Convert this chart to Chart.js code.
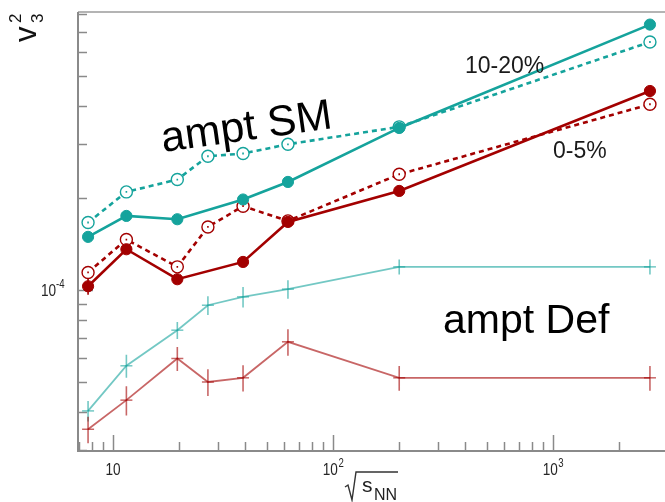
<!DOCTYPE html>
<html>
<head>
<meta charset="utf-8">
<script src="https://cdn.jsdelivr.net/npm/chart.js@4.4.1/dist/chart.umd.min.js"></script>
<style>
    html, body { margin: 0; padding: 0; background: #fff; overflow: hidden; }
    #wrap { position: relative; width: 665px; height: 502px; }
</style>
</head>
<body>
<div id="wrap"><canvas id="v3chart" width="665" height="502"></canvas></div>
<script>
// v3^2 versus collision energy, AMPT string-melting and default modes

const energies = [7.7, 11.5, 19.6, 27, 39, 62.4, 200, 2760];
const energiesSM = [7.7, 11.5, 19.6, 39, 62.4, 200, 2760];

// ampt SM, full markers (solid line)
const smMid = [1.494e-4, 1.749e-4, 1.706e-4, 1.979e-4, 2.259e-4, 3.392e-4, 7.386e-4];       // 10-20%
const smCentral = [1.030e-4, 1.361e-4, 1.086e-4, 1.237e-4, 1.672e-4, 2.111e-4, 4.480e-4];   // 0-5%
const smMidErr = [0.3e-5, 0.3e-5, 0.3e-5, 0.3e-5, 0.3e-5, 0.4e-5, 0.8e-5];
const smCentralErr = [0.64e-5, 0.3e-5, 0.3e-5, 0.3e-5, 0.3e-5, 0.3e-5, 0.5e-5];

// ampt SM, open markers (dashed line)
const smMidOpen = [1.664e-4, 2.096e-4, 2.300e-4, 2.741e-4, 2.797e-4, 3.000e-4, 3.420e-4, 6.478e-4];
const smCentralOpen = [1.143e-4, 1.464e-4, 1.192e-4, 1.610e-4, 1.882e-4, 1.685e-4, 2.393e-4, 4.053e-4];
const smMidOpenErr = [0.12e-5, 0.15e-5, 0.16e-5, 0.2e-5, 0.2e-5, 0.2e-5, 0.25e-5, 0.45e-5];
const smCentralOpenErr = [0.08e-5, 0.1e-5, 0.08e-5, 0.11e-5, 0.13e-5, 0.12e-5, 0.17e-5, 0.3e-5];

// ampt Def
const defMid = [4.03e-5, 5.66e-5, 7.40e-5, 8.93e-5, 9.51e-5, 1.008e-4, 1.192e-4, 1.192e-4];
const defCentral = [3.51e-5, 4.37e-5, 5.98e-5, 5.01e-5, 5.17e-5, 6.78e-5, 5.17e-5, 5.17e-5];
const defMidErr = [0.31e-5, 0.49e-5, 0.47e-5, 0.63e-5, 0.74e-5, 0.70e-5, 0.67e-5, 0.67e-5];
const defCentralErr = [0.35e-5, 0.48e-5, 0.54e-5, 0.50e-5, 0.51e-5, 0.67e-5, 0.48e-5, 0.48e-5];

// axis ticks
const xMinorTicks = [7, 8, 9, 20, 30, 40, 50, 60, 70, 80, 90, 200, 300, 400, 500, 600, 700, 800, 900, 2000];
const xMajorTicks = [10, 100, 1000];
const xTickBase = ['10', '10', '10'];
const xTickExp = ['', '2', '3'];
const yMinorTicks = [3e-5, 4e-5, 5e-5, 6e-5, 7e-5, 8e-5, 9e-5, 2e-4, 3e-4, 4e-4, 5e-4, 6e-4, 7e-4, 8e-4];
const yMajorTicks = [1e-4];
const yTickBase = ['10'];
const yTickExp = ['-4'];

const TEAL = '#15a39c';
const RED = '#a30000';
const TEAL_DEF = 'rgba(22, 163, 156, 0.6)';
const RED_DEF = 'rgba(163, 0, 0, 0.6)';
const FONT = "'Liberation Sans', Arial, Helvetica, sans-serif";

function pts(xs, ys) {
    return xs.map((x, i) => ({ x: x, y: ys[i] }));
}

function solidSeries(xs, ys, errs, color) {
    return {
        data: pts(xs, ys), errors: errs,
        borderColor: color, backgroundColor: color,
        borderWidth: 2.6,
        pointRadius: 5.6, pointBorderWidth: 1,
        pointBackgroundColor: color, pointBorderColor: color,
        clip: false, order: 1
    };
}

function openSeries(xs, ys, errs, color) {
    return {
        data: pts(xs, ys), errors: errs,
        borderColor: color, backgroundColor: '#fff',
        borderWidth: 2.6, borderDash: [5, 4],
        pointRadius: 6, pointBorderWidth: 1.4,
        pointBackgroundColor: '#fff', pointBorderColor: color,
        clip: false, order: 2
    };
}

function defSeries(xs, ys, errs, color) {
    return {
        data: pts(xs, ys), errors: errs,
        borderColor: color, backgroundColor: color,
        borderWidth: 1.8,
        pointStyle: 'line', pointRadius: 6, pointBorderWidth: 1.5,
        pointBorderColor: color,
        clip: false, order: 3
    };
}

// draw text with a horizontal squeeze (tick labels use a narrow face)
function squeezeText(ctx, str, x, y, sx) {
    ctx.save();
    ctx.translate(x, y);
    ctx.scale(sx, 1);
    ctx.fillText(str, 0, 0);
    ctx.restore();
}

const frame = {
    id: 'frame',
    beforeDatasetsDraw(chart) {
        const { ctx, chartArea: a, scales: { x, y } } = chart;
        ctx.save();
        ctx.lineCap = 'butt';

        // top frame
        ctx.strokeStyle = '#b4b4b4';
        ctx.lineWidth = 2;
        ctx.beginPath();
        ctx.moveTo(a.left, a.top);
        ctx.lineTo(a.right + 10, a.top);
        ctx.stroke();

        // left and bottom axes
        ctx.strokeStyle = '#8a8a8a';
        ctx.beginPath();
        ctx.moveTo(a.left, a.top);
        ctx.lineTo(a.left, a.bottom);
        ctx.lineTo(a.right + 10, a.bottom);
        ctx.stroke();

        // inward ticks
        ctx.lineWidth = 1.5;
        ctx.beginPath();
        xMinorTicks.forEach(v => {
            const px = Math.round(x.getPixelForValue(v)) + 0.5;
            ctx.moveTo(px, a.bottom);
            ctx.lineTo(px, a.bottom - 9);
        });
        xMajorTicks.forEach(v => {
            const px = Math.round(x.getPixelForValue(v)) + 0.5;
            ctx.moveTo(px, a.bottom);
            ctx.lineTo(px, a.bottom - 16);
        });
        yMinorTicks.forEach(v => {
            const py = Math.round(y.getPixelForValue(v)) + 0.5;
            ctx.moveTo(a.left, py);
            ctx.lineTo(a.left + 9, py);
        });
        yMajorTicks.forEach(v => {
            const py = Math.round(y.getPixelForValue(v)) + 0.5;
            ctx.moveTo(a.left, py);
            ctx.lineTo(a.left + 15, py);
        });
        ctx.stroke();

        // tick labels
        ctx.fillStyle = '#262626';
        ctx.textBaseline = 'alphabetic';
        ctx.textAlign = 'left';
        const sx = 0.8;
        xMajorTicks.forEach((v, i) => {
            const px = x.getPixelForValue(v);
            ctx.font = '17px ' + FONT;
            const wb = ctx.measureText(xTickBase[i]).width * sx;
            ctx.font = '12px ' + FONT;
            const we = xTickExp[i] ? ctx.measureText(xTickExp[i]).width * sx : 0;
            const left = px - (wb + we) / 2;
            ctx.font = '17px ' + FONT;
            squeezeText(ctx, xTickBase[i], left, a.bottom + 24, sx);
            if (xTickExp[i]) {
                ctx.font = '12px ' + FONT;
                squeezeText(ctx, xTickExp[i], left + wb + 0.5, a.bottom + 16, sx);
            }
        });
        yMajorTicks.forEach((v, i) => {
            const py = y.getPixelForValue(v);
            ctx.font = '17px ' + FONT;
            squeezeText(ctx, yTickBase[i], 41, py + 6, sx);
            ctx.font = '12px ' + FONT;
            squeezeText(ctx, yTickExp[i], 56, py - 2, sx);
        });
        ctx.restore();
    }
};

const errorBars = {
    id: 'errorBars',
    afterDatasetsDraw(chart) {
        const { ctx, scales: { x, y } } = chart;
        ctx.save();
        chart.data.datasets.forEach(ds => {
            if (!ds.errors) return;
            ctx.strokeStyle = ds.borderColor;
            ctx.lineWidth = 1.6;
            ctx.beginPath();
            ds.data.forEach((p, i) => {
                const px = x.getPixelForValue(p.x);
                ctx.moveTo(px, y.getPixelForValue(p.y + ds.errors[i]));
                ctx.lineTo(px, y.getPixelForValue(p.y - ds.errors[i]));
            });
            ctx.stroke();
        });
        ctx.restore();
    }
};

const annotations = {
    id: 'annotations',
    afterDraw(chart) {
        const { ctx } = chart;
        ctx.save();
        ctx.fillStyle = '#000';
        ctx.textAlign = 'left';
        ctx.textBaseline = 'alphabetic';

        // model labels; the SM one is tilted along its curves
        ctx.save();
        ctx.translate(163, 152);
        ctx.rotate(-8 * Math.PI / 180);
        ctx.font = '43px ' + FONT;
        ctx.fillText('ampt SM', 0, 0);
        ctx.restore();

        ctx.font = '41px ' + FONT;
        ctx.fillText('ampt Def', 443, 333);

        ctx.font = '23px ' + FONT;
        ctx.fillStyle = '#1a1a1a';
        ctx.fillText('10-20%', 465, 73);
        ctx.fillText('0-5%', 553, 158);

        // y title: v_3^2, rotated
        ctx.save();
        ctx.fillStyle = '#111';
        ctx.translate(36, 42);
        ctx.rotate(-Math.PI / 2);
        ctx.font = '31px ' + FONT;
        ctx.fillText('v', 0, 0);
        ctx.font = '17px ' + FONT;
        ctx.fillText('2', 19, -15);
        ctx.fillText('3', 19, 7);
        ctx.restore();

        // x title: sqrt(s_NN)
        ctx.strokeStyle = '#333';
        ctx.lineWidth = 1.4;
        ctx.beginPath();
        ctx.moveTo(345, 487);
        ctx.lineTo(348, 485);
        ctx.lineTo(352, 500);
        ctx.lineTo(356, 472);
        ctx.lineTo(398, 472);
        ctx.stroke();
        ctx.fillStyle = '#222';
        ctx.font = '21px ' + FONT;
        ctx.fillText('s', 362, 492);
        ctx.font = '16px ' + FONT;
        ctx.fillText('NN', 374, 500);
        ctx.restore();
    }
};

new Chart(document.getElementById('v3chart'), {
    type: 'line',
    data: {
        datasets: [
            solidSeries(energiesSM, smMid, smMidErr, TEAL),
            solidSeries(energiesSM, smCentral, smCentralErr, RED),
            openSeries(energies, smMidOpen, smMidOpenErr, TEAL),
            openSeries(energies, smCentralOpen, smCentralOpenErr, RED),
            defSeries(energies, defMid, defMidErr, TEAL_DEF),
            defSeries(energies, defCentral, defCentralErr, RED_DEF)
        ]
    },
    options: {
        responsive: false,
        animation: false,
        devicePixelRatio: 1,
        layout: { padding: { left: 78, top: 12, right: 0, bottom: 51 } },
        plugins: { legend: { display: false }, tooltip: { enabled: false } },
        scales: {
            x: { type: 'logarithmic', min: 6.93, max: 2987, display: false },
            y: { type: 'logarithmic', min: 2.98e-5, max: 8.12e-4, display: false }
        }
    },
    plugins: [frame, errorBars, annotations]
});
</script>
</body>
</html>
